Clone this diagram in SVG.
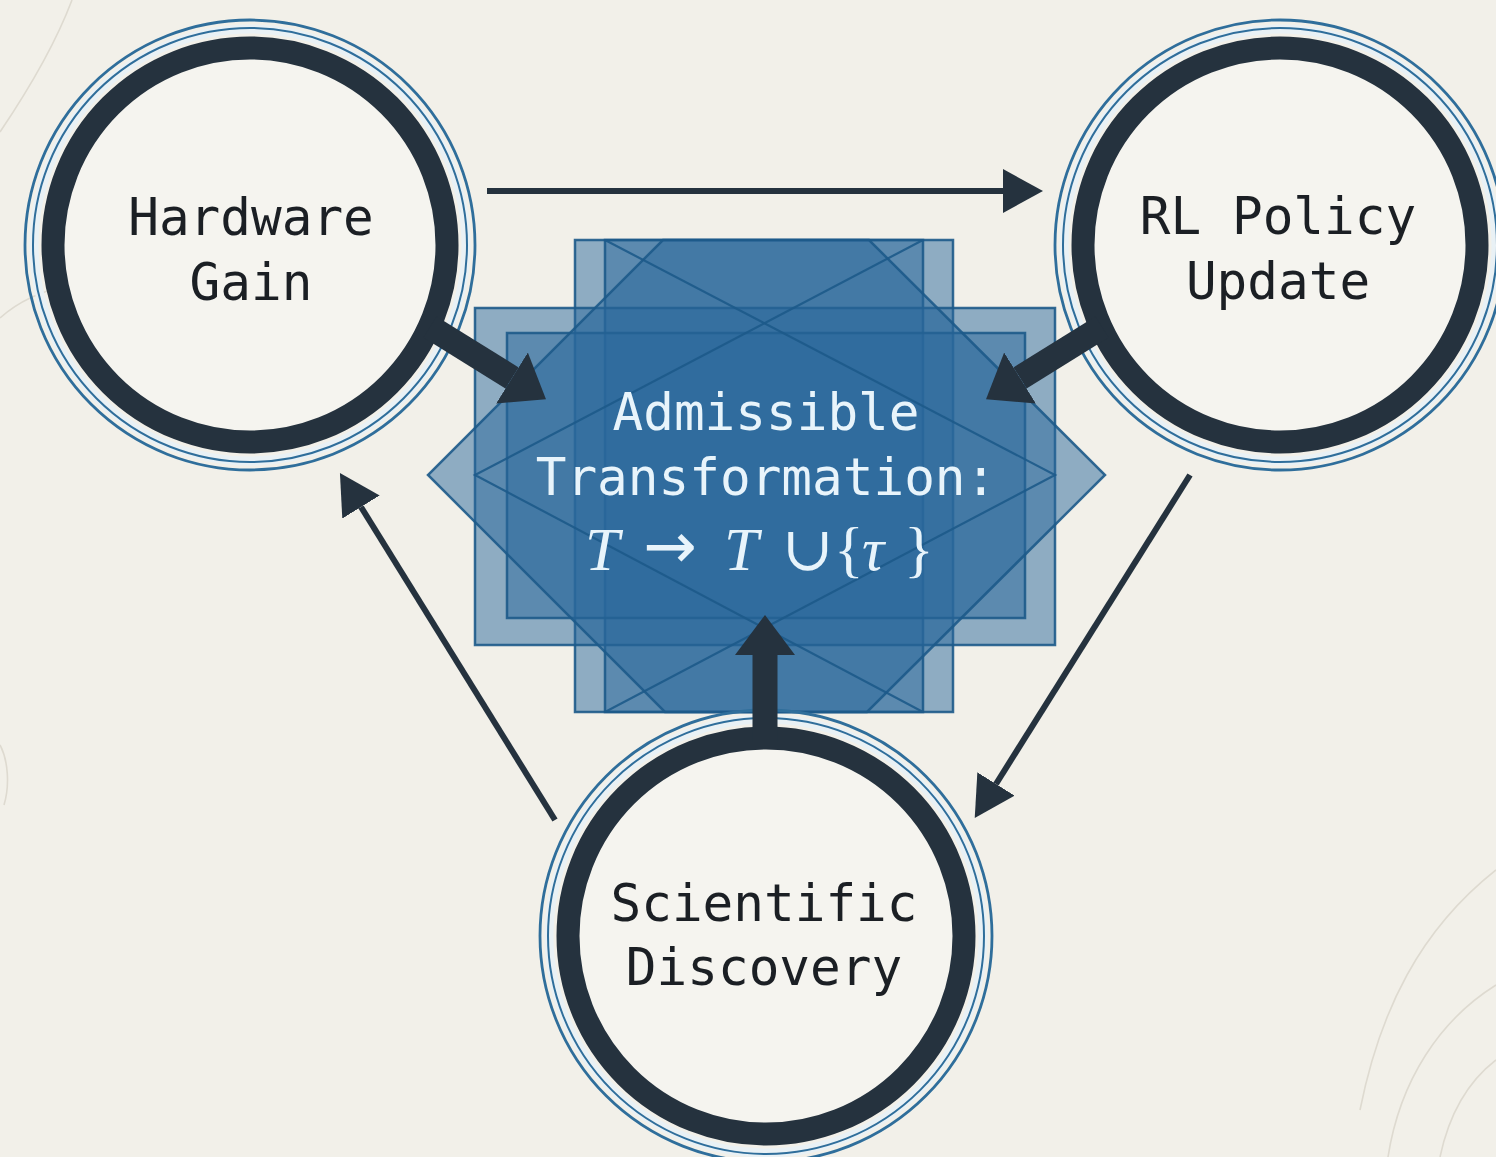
<svg xmlns="http://www.w3.org/2000/svg" width="1496" height="1157" viewBox="0 0 1496 1157">
  <defs>
    <style>
      .bg { fill: #f2f0e9; }
      .deco { fill: none; stroke: #dedad0; stroke-width: 1.6; }
      .ring { fill: #f5f4ef; stroke: #25323e; stroke-width: 23; }
      .halo { fill: none; stroke: #e9f1f5; stroke-width: 9; }
      .blue1 { fill: none; stroke: #2f6e9b; stroke-width: 2.8; }
      .blue2 { fill: none; stroke: #2f6e9b; stroke-width: 2; }
      .label { font-family: "DejaVu Sans Mono", "Liberation Mono", monospace; font-size: 51px; fill: #1b1f24; text-anchor: middle; }
      .pane { fill: #2a679b; fill-opacity: 0.5; stroke: #1d5a8a; stroke-width: 2.5; stroke-opacity: 0.9; }
      .guide { fill: none; stroke: #1d5a8a; stroke-width: 2.2; stroke-opacity: 0.9; }
      .ctext { font-family: "DejaVu Sans Mono", "Liberation Mono", monospace; font-size: 51px; fill: #e8f4fb; text-anchor: middle; }
      .math { font-family: "Liberation Serif", "DejaVu Serif", serif; font-size: 62px; fill: #e8f4fb; }
      .thin { fill: none; stroke: #25323e; stroke-width: 6; }
      .thick { fill: none; stroke: #25323e; stroke-width: 25; }
    </style>
    <marker id="headThin" viewBox="0 0 40 44" refX="0" refY="22" markerWidth="40" markerHeight="44" markerUnits="userSpaceOnUse" orient="auto">
      <path d="M0,0 L40,22 L0,44 Z" fill="#25323e"/>
    </marker>
    <marker id="headThick" viewBox="0 0 40 60" refX="0" refY="30" markerWidth="40" markerHeight="60" markerUnits="userSpaceOnUse" orient="auto">
      <path d="M0,0 L40,30 L0,60 Z" fill="#25323e"/>
    </marker>
  </defs>

  <rect class="bg" x="0" y="0" width="1496" height="1157"/>

  <g id="background-arcs">
    <path class="deco" d="M0,132 C25,95 55,45 72,0"/>
    <path class="deco" d="M0,318 C20,300 45,290 70,285"/>
    <path class="deco" d="M1388,1157 C1400,1080 1440,1020 1496,985"/>
    <path class="deco" d="M1360,1110 C1380,1010 1420,930 1496,870"/>
    <path class="deco" d="M1440,1157 C1450,1110 1470,1080 1496,1060"/>
    <path class="deco" d="M0,745 C8,760 10,785 4,805"/>
  </g>

  <g id="node-center">
    <rect class="pane" x="575" y="240" width="378" height="472"/>
    <rect class="pane" x="605" y="240" width="318" height="472"/>
    <rect class="pane" x="475" y="308" width="580" height="337"/>
    <rect class="pane" x="507" y="333" width="518" height="285"/>
    <polygon class="pane" points="663,240 869,240 1105,475 867,712 665,712 428,475"/>
    <polyline class="guide" points="605,240 1055,475 605,712"/>
    <polyline class="guide" points="923,240 475,475 923,712"/>
    <text class="ctext" x="766" y="430">Admissible</text>
    <text class="ctext" x="766" y="495">Transformation:</text>
    <text class="math" y="570"><tspan x="585" font-style="italic">T</tspan><tspan x="643" y="568" font-family="DejaVu Sans, sans-serif" font-size="64">→</tspan><tspan x="724" y="570" font-style="italic">T</tspan><tspan x="782">∪</tspan><tspan x="834">{</tspan><tspan x="862" font-style="italic">τ</tspan><tspan x="904">}</tspan></text>
  </g>

  <g id="node-hardware">
    <circle class="halo" cx="250" cy="245" r="216"/>
    <circle class="blue1" cx="250" cy="245" r="225"/>
    <circle class="blue2" cx="250" cy="245" r="217"/>
    <circle class="ring" cx="250" cy="245" r="197"/>
    <text class="label" x="251" y="235">Hardware</text>
    <text class="label" x="251" y="300">Gain</text>
  </g>

  <g id="node-rl">
    <circle class="halo" cx="1280" cy="245" r="216"/>
    <circle class="blue1" cx="1280" cy="245" r="225"/>
    <circle class="blue2" cx="1280" cy="245" r="217"/>
    <circle class="ring" cx="1280" cy="245" r="197"/>
    <text class="label" x="1278" y="234">RL Policy</text>
    <text class="label" x="1278" y="299">Update</text>
  </g>

  <g id="node-science">
    <circle class="halo" cx="766" cy="936" r="217"/>
    <circle class="blue1" cx="766" cy="936" r="226"/>
    <circle class="blue2" cx="766" cy="936" r="218"/>
    <circle class="ring" cx="766" cy="936" r="198"/>
    <text class="label" x="764" y="921">Scientific</text>
    <text class="label" x="764" y="985">Discovery</text>
  </g>

  <g id="connectors">
    <line class="thin" x1="487" y1="191" x2="1003" y2="191" marker-end="url(#headThin)"/>
    <line class="thin" x1="1190" y1="475" x2="996" y2="784" marker-end="url(#headThin)"/>
    <line class="thin" x1="555" y1="820" x2="361" y2="507" marker-end="url(#headThin)"/>
    <line class="thick" x1="430" y1="327" x2="512" y2="378" marker-end="url(#headThick)"/>
    <line class="thick" x1="1102" y1="327" x2="1020" y2="378" marker-end="url(#headThick)"/>
    <line class="thick" x1="765" y1="742" x2="765" y2="655" marker-end="url(#headThick)"/>
  </g>
</svg>
